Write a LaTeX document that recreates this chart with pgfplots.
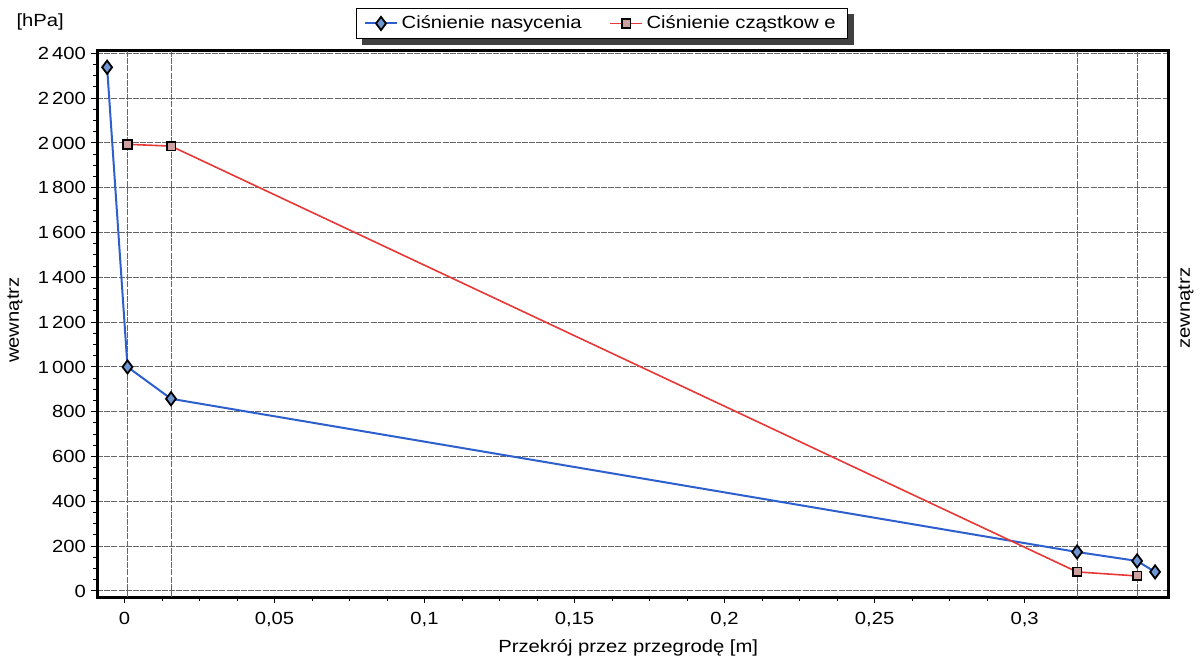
\documentclass[border=0pt]{standalone}
\usepackage{fontspec}
\setmainfont{Liberation Sans}[FakeStretch=1.15]
\usepackage{pgfplots}
\pgfplotsset{compat=1.18}
\usetikzlibrary{backgrounds}
\definecolor{bline}{RGB}{45,95,205}
\definecolor{bfill}{RGB}{110,150,210}
\definecolor{rline}{RGB}{232,55,55}
\definecolor{rfill}{RGB}{205,160,160}
\begin{document}
\begin{tikzpicture}[font=\fontsize{8.8}{10.5}\selectfont]
\useasboundingbox (0,0) rectangle (600pt,330.5pt);
\begin{axis}[
  at={(48.5pt,32pt)}, anchor=south west,
  scale only axis, width=535.5pt, height=273.5pt,
  xmin=-0.00917, xmax=0.3478, ymin=-27, ymax=2415,
  clip=false,
  xtick={0,0.05,0.1,0.15,0.2,0.25,0.3},
  xticklabels={0,{0,05},{0,1},{0,15},{0,2},{0,25},{0,3}},
  ytick={0,200,400,600,800,1000,1200,1400,1600,1800,2000,2200,2400},
  yticklabels={0,200,400,600,800,{1\,000},{1\,200},{1\,400},{1\,600},{1\,800},{2\,000},{2\,200},{2\,400}},
  minor x tick num=3, minor y tick num=3,
  tick align=outside, tick pos=left,
  major tick length=3pt, minor tick length=1.8pt,
  every tick/.style={black, line width=0.5pt},
  ymajorgrids,
  grid style={black!60, line width=0.5pt, dash pattern=on 3pt off 0.6pt},
  extra x ticks={0.001,0.0155,0.3175,0.3375},
  extra x tick labels={{},{},{},{}},
  extra x tick style={grid=major, major tick length=0pt},
  axis line style={line width=1.5pt},
  xticklabel style={yshift=-1pt},
  yticklabel style={xshift=1pt},
  xlabel={Przekrój przez przegrodę [m]},
  xlabel style={at={(axis description cs:0.496,0)}, anchor=center, yshift=-25.5pt},
  ylabel={wewnątrz},
  ylabel style={at={(axis description cs:-0.0766,0.506)}, anchor=center, rotate=0},
  legend columns=2,
  legend image code/.code={%
    \draw[#1, mark=none] (0cm,0cm) -- (0.55cm,0cm);
    \draw[#1] plot coordinates {(0.275cm,0cm)};},
  legend style={name=leg, at={(axis description cs:0.4715,1.0485)}, anchor=center,
    draw=black, line width=0.8pt, fill=white,
    inner xsep=4pt, inner ysep=1.5pt,
    /tikz/every even column/.append style={column sep=12pt},
    font=\fontsize{8.8}{10.5}\selectfont},
  legend cell align=left,
]
\addplot[color=bline, line width=1pt, mark=diamond*, mark size=3.3pt,
  mark options={fill=bfill, draw=black, line width=0.9pt, solid}]
  coordinates {(-0.0058,2338) (0.001,1000) (0.0155,858) (0.3175,174) (0.3375,134) (0.3435,85)};
\addlegendentry{Ciśnienie nasycenia}
\addplot[color=rline, line width=0.8pt, mark=square*, mark size=2.2pt,
  mark options={fill=rfill, draw=black, line width=0.9pt, solid}]
  coordinates {(0.001,1994) (0.0155,1986) (0.3175,85) (0.3375,67)};
\addlegendentry{Ciśnienie cząstkow e}
\node[anchor=center] at (axis description cs:-0.053,1.051) {[hPa]};
\node[anchor=center, rotate=90] at (axis description cs:1.0168,0.528) {zewnątrz};
\end{axis}
\begin{pgfonlayer}{background}
\fill[black!75] ([shift={(3pt,-3pt)}]leg.south west) rectangle ([shift={(3pt,-3pt)}]leg.north east);
\end{pgfonlayer}
\end{tikzpicture}
\end{document}
